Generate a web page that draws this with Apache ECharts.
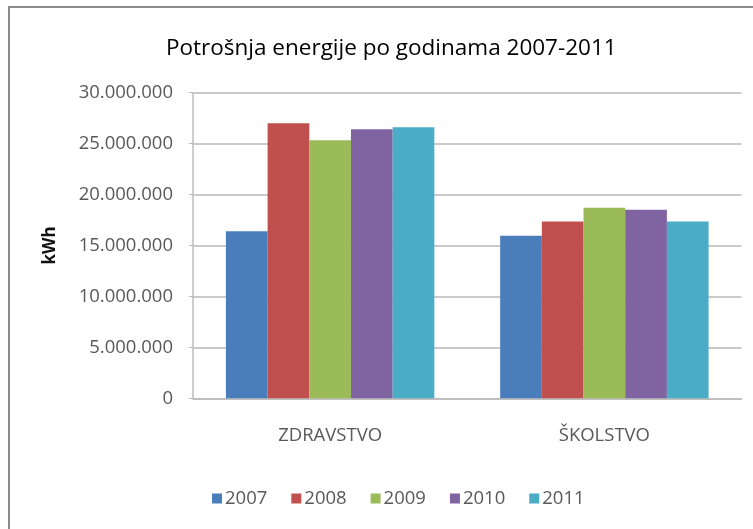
<!DOCTYPE html>
<html>
<head>
<meta charset="utf-8">
<script src="https://cdn.jsdelivr.net/npm/echarts@6/dist/echarts.min.js"></script>
<style>
  html, body { margin: 0; padding: 0; background: #fff; }
  #chart { width: 753px; height: 529px; }
</style>
</head>
<body>
<div id="chart"></div>
<script>
// podaci
const categories = ["ZDRAVSTVO", "ŠKOLSTVO"];
const years = ["2007", "2008", "2009", "2010", "2011"];
const values2007 = [16400000, 15950000];
const values2008 = [27000000, 17350000];
const values2009 = [25330000, 18700000];
const values2010 = [26400000, 18500000];
const values2011 = [26600000, 17350000];
const yTicks = [0, 5000000, 10000000, 15000000, 20000000, 25000000, 30000000];

const colors = ["#4a7ebb", "#c0504d", "#9bbb59", "#8064a2", "#4bacc6"];
const allValues = [values2007, values2008, values2009, values2010, values2011];

const fontFam = '"Open Sans", sans-serif';

const formatNum = (v) => String(v).replace(/\B(?=(\d{3})+(?!\d))/g, ".");

const series = years.map((y, i) => ({
  name: y,
  type: "bar",
  data: allValues[i],
  itemStyle: { color: colors[i] },
  barGap: "0%",
  barCategoryGap: "24%",
}));

const chart = echarts.init(document.getElementById("chart"));
chart.setOption({
  animation: false,
  textStyle: { fontFamily: fontFam },
  color: colors,
  title: {
    text: "Potrošnja energije po godinama 2007-2011",
    left: 161,
    top: 32,
    textStyle: { fontFamily: fontFam, fontSize: 22.5, fontWeight: "normal", color: "#000" },
  },
  graphic: [
    {
      type: "rect",
      shape: { x: 9, y: 7, width: 800, height: 600 },
      style: { fill: "none", stroke: "#8a8a8a", lineWidth: 2 },
      silent: true,
    },
  ],
  legend: {
    data: years,
    left: 207,
    top: 484,
    icon: "rect",
    itemWidth: 10,
    itemHeight: 10,
    itemGap: 24,
    textStyle: { fontFamily: fontFam, fontSize: 18.5, color: "#595959", padding: [0, 0, 0, -2] },
  },
  grid: { left: 193, right: 11.5, top: 92.7, bottom: 130.7 },
  xAxis: {
    type: "category",
    data: categories,
    axisLine: { lineStyle: { color: "#bcbcbc", width: 1.5 } },
    axisTick: { show: false },
    axisLabel: { fontFamily: fontFam, fontSize: 18.5, color: "#595959", margin: 28 },
  },
  yAxis: {
    type: "value",
    name: "kWh",
    nameLocation: "middle",
    nameGap: 134,
    nameRotate: 90,
    nameTextStyle: { fontFamily: fontFam, fontSize: 17, fontWeight: "bold", color: "#111" },
    min: yTicks[0],
    max: yTicks[yTicks.length - 1],
    interval: yTicks[1] - yTicks[0],
    axisLine: { show: true, lineStyle: { color: "#bcbcbc", width: 1.5 } },
    axisTick: { show: true, length: 4, lineStyle: { color: "#bcbcbc" } },
    splitLine: { lineStyle: { color: "#b8b8b8", width: 1.5 } },
    axisLabel: {
      fontFamily: fontFam,
      fontSize: 18.5,
      color: "#595959",
      margin: 20,
      formatter: formatNum,
    },
  },
  series: series,
});
</script>
</body>
</html>
